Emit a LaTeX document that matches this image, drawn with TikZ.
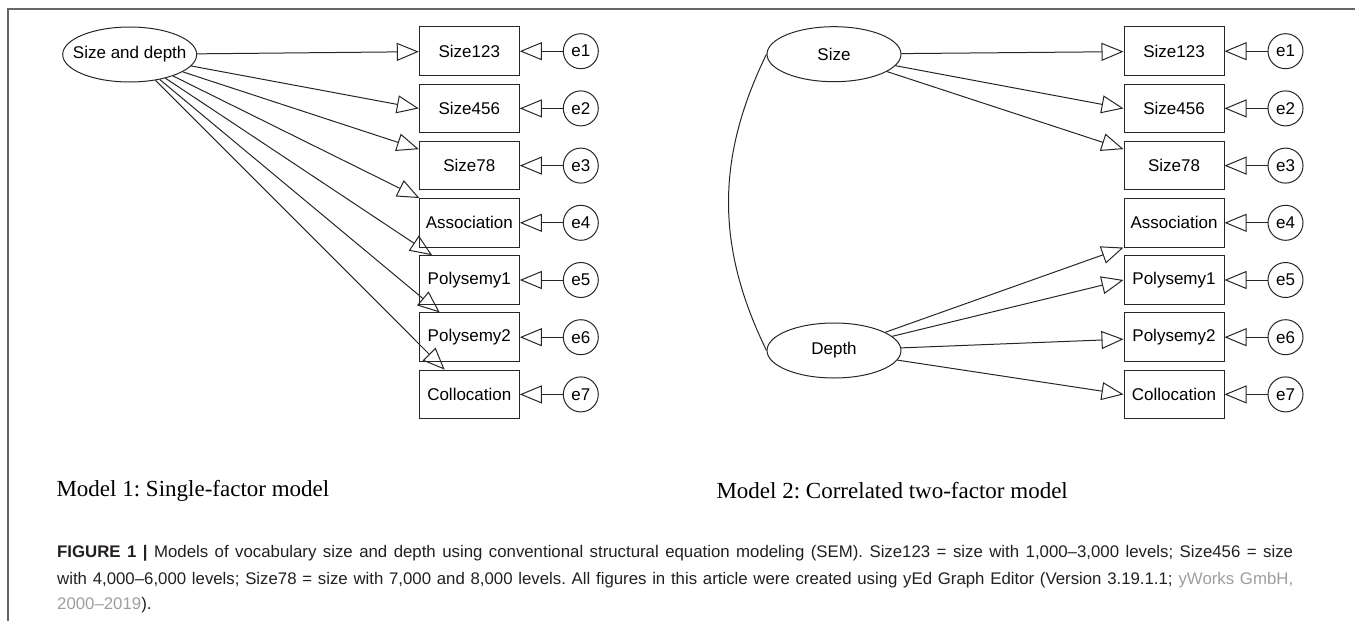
\documentclass[tikz,border=0pt]{standalone}
\usepackage{fontspec}
\setmainfont{Liberation Serif}
\setsansfont{Liberation Sans}
\usetikzlibrary{arrows.meta,positioning,shapes.geometric}
\frenchspacing

\definecolor{framegray}{gray}{0.4}
\definecolor{linkgray}{gray}{0.62}
\definecolor{captext}{HTML}{231F20}
\newlength{\capw}\setlength{\capw}{1236pt}

\begin{document}
\begin{tikzpicture}[x=1pt, y=-1pt, font=\sffamily\fontsize{17}{20}\selectfont,
  node distance=7.7pt and 43pt,
  latent/.style={draw=black!85, line width=1pt, ellipse, minimum width=134pt, minimum height=55pt, inner sep=0pt},
  box/.style={draw=black!85, line width=1pt, minimum width=100pt, minimum height=48.5pt, inner sep=0pt},
  err/.style={draw=black!85, line width=1pt, circle, minimum size=35pt, inner sep=0pt},
  arrow/.style={-{Triangle[open, length=22pt, width=18pt]}, line width=1pt, draw=black!85},
  corr/.style={line width=1pt, draw=black!85},
  modellabel/.style={anchor=west, font=\rmfamily\fontsize{23}{26}\selectfont},
  capline/.style={anchor=base west, inner sep=0pt, text=captext, font=\sffamily\fontsize{16.8}{20}\selectfont}]
  \useasboundingbox (0,0) rectangle (1355,621);
  \draw[framegray, line width=1.5pt] (1355,9) -- (8,9) -- (8,621);
  % model 1
  \node[latent] (sd) at (129.7,54.5) {\makebox[0pt]{Size and depth}};
  \node[box] (size123a) at (469.3,51.2) {Size123};
  \node[box, below=of size123a] (size456a) {Size456};
  \node[box, below=of size456a] (size78a) {Size78};
  \node[box, below=of size78a] (assoca) {Association};
  \node[box, below=of assoca] (poly1a) {Polysemy1};
  \node[box, below=of poly1a] (poly2a) {Polysemy2};
  \node[box, below=of poly2a] (colla) {Collocation};
  \node[err, right=of size123a] (e1a) {e1};
  \node[err, right=of size456a] (e2a) {e2};
  \node[err, right=of size78a] (e3a) {e3};
  \node[err, right=of assoca] (e4a) {e4};
  \node[err, right=of poly1a] (e5a) {e5};
  \node[err, right=of poly2a] (e6a) {e6};
  \node[err, right=of colla] (e7a) {e7};
  \draw[arrow] (sd) -- (size123a);
  \draw[arrow] (sd) -- (size456a.west);
  \draw[arrow] (sd) -- (size78a);
  \draw[arrow] (sd) -- (assoca);
  \draw[arrow] (sd) -- (poly1a);
  \draw[arrow] (sd) -- (poly2a);
  \draw[arrow] (sd) -- (colla);
  \draw[arrow] (e1a) -- (size123a);
  \draw[arrow] (e2a) -- (size456a);
  \draw[arrow] (e3a) -- (size78a);
  \draw[arrow] (e4a) -- (assoca);
  \draw[arrow] (e5a) -- (poly1a);
  \draw[arrow] (e6a) -- (poly2a);
  \draw[arrow] (e7a) -- (colla);
  % model 2
  \node[latent] (size) at (834,54.2) {Size};
  \node[latent] (depth) at (834,350.5) {Depth};
  \node[box] (size123b) at (1174,51.2) {Size123};
  \node[box, below=of size123b] (size456b) {Size456};
  \node[box, below=of size456b] (size78b) {Size78};
  \node[box, below=of size78b] (assocb) {Association};
  \node[box, below=of assocb] (poly1b) {Polysemy1};
  \node[box, below=of poly1b] (poly2b) {Polysemy2};
  \node[box, below=of poly2b] (collb) {Collocation};
  \node[err, right=of size123b] (e1b) {e1};
  \node[err, right=of size456b] (e2b) {e2};
  \node[err, right=of size78b] (e3b) {e3};
  \node[err, right=of assocb] (e4b) {e4};
  \node[err, right=of poly1b] (e5b) {e5};
  \node[err, right=of poly2b] (e6b) {e6};
  \node[err, right=of collb] (e7b) {e7};
  \draw[arrow] (size) -- (size123b);
  \draw[arrow] (size) -- (size456b.west);
  \draw[arrow] (size) -- (size78b);
  \draw[arrow] (depth) -- (assocb.south west);
  \draw[arrow] (depth) -- (poly1b.west);
  \draw[arrow] (depth) -- (poly2b);
  \draw[arrow] (depth) -- (collb.west);
  \draw[corr] (size.west) to[bend right=26] (depth.west);
  \draw[arrow] (e1b) -- (size123b);
  \draw[arrow] (e2b) -- (size456b);
  \draw[arrow] (e3b) -- (size78b);
  \draw[arrow] (e4b) -- (assocb);
  \draw[arrow] (e5b) -- (poly1b);
  \draw[arrow] (e6b) -- (poly2b);
  \draw[arrow] (e7b) -- (collb);
  % labels and caption
  \node[modellabel] (label1) at (53,491) {Model 1: Single-factor model};
  \node[modellabel] (label2) at (713,491) {Model 2: Correlated two-factor model};
  \node[capline] (capone) at (57,557) {\makebox[\capw][s]{\textbf{FIGURE 1 |} Models of vocabulary size and depth using conventional structural equation modeling (SEM). Size123 = size with 1,000–3,000 levels; Size456 = size}};
  \node[capline] (captwo) at (57,584) {\makebox[\capw][s]{with 4,000–6,000 levels; Size78 = size with 7,000 and 8,000 levels. All figures in this article were created using yEd Graph Editor (Version 3.19.1.1; \textcolor{linkgray}{yWorks GmbH,}}};
  \node[capline] (capthree) at (57,609) {\textcolor{linkgray}{2000–2019}).};
\end{tikzpicture}
\end{document}
